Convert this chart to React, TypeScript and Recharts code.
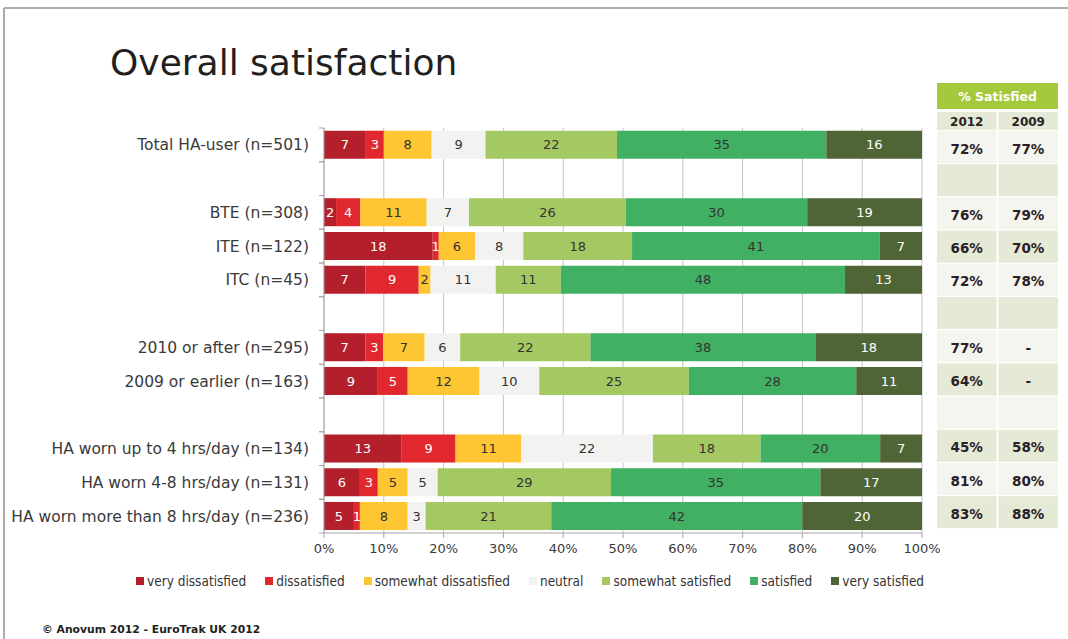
import React from "react";
import { BarChart, Bar, XAxis, YAxis, CartesianGrid, LabelList } from "recharts";

// Respondent groups (empty strings are spacer rows between groups)
const categories = [
  "Total HA-user (n=501)",
  "",
  "BTE (n=308)",
  "ITE (n=122)",
  "ITC (n=45)",
  "",
  "2010 or after (n=295)",
  "2009 or earlier (n=163)",
  "",
  "HA worn up to 4 hrs/day (n=134)",
  "HA worn 4-8 hrs/day (n=131)",
  "HA worn more than 8 hrs/day (n=236)",
];

// Share of answers per group, in percent
const veryDissatisfied = [7, null, 2, 18, 7, null, 7, 9, null, 13, 6, 5];
const dissatisfied = [3, null, 4, 1, 9, null, 3, 5, null, 9, 3, 1];
const somewhatDissatisfied = [8, null, 11, 6, 2, null, 7, 12, null, 11, 5, 8];
const neutral = [9, null, 7, 8, 11, null, 6, 10, null, 22, 5, 3];
const somewhatSatisfied = [22, null, 26, 18, 11, null, 22, 25, null, 18, 29, 21];
const satisfied = [35, null, 30, 41, 48, null, 38, 28, null, 20, 35, 42];
const verySatisfied = [16, null, 19, 7, 13, null, 18, 11, null, 7, 17, 20];

// "% Satisfied" summary per group
const satisfied2012 = ["72%", "", "76%", "66%", "72%", "", "77%", "64%", "", "45%", "81%", "83%"];
const satisfied2009 = ["77%", "", "79%", "70%", "78%", "", "-", "-", "", "58%", "80%", "88%"];
const tableYears = ["2012", "2009"];

const xTicks = [0, 0.1, 0.2, 0.3, 0.4, 0.5, 0.6, 0.7, 0.8, 0.9, 1];

const series = [
  { key: "veryDissatisfied", name: "very dissatisfied", values: veryDissatisfied, color: "#b31f2b", text: "#ffffff" },
  { key: "dissatisfied", name: "dissatisfied", values: dissatisfied, color: "#e2282f", text: "#ffffff" },
  { key: "somewhatDissatisfied", name: "somewhat dissatisfied", values: somewhatDissatisfied, color: "#fdc632", text: "#333333" },
  { key: "neutral", name: "neutral", values: neutral, color: "#f2f2f1", text: "#333333" },
  { key: "somewhatSatisfied", name: "somewhat satisfied", values: somewhatSatisfied, color: "#a5c962", text: "#333333" },
  { key: "satisfied", name: "satisfied", values: satisfied, color: "#41b063", text: "#333333" },
  { key: "verySatisfied", name: "very satisfied", values: verySatisfied, color: "#4f6535", text: "#ffffff" },
];

const data = categories.map((name, i) => {
  const row: Record<string, any> = { name };
  series.forEach((s) => {
    row[s.key] = s.values[i];
  });
  return row;
});

// layout
const CHART_W = 940;
const CHART_H = 600;
const PLOT_TOP = 128;
const PLOT_BOTTOM = 533;
const Y_AXIS_W = 324;
const Y_TICK_MARGIN = 15;
const BAND = (PLOT_BOTTOM - PLOT_TOP) / categories.length;
const AXIS_GREY = "#a6a6a6";
const FONT = "'DejaVu Sans', Verdana, sans-serif";

const fmtLabel = (v: any) => (v === null || v === undefined || v === 0 ? "" : v);

function CategoryTick(props: any) {
  const { x, y, payload } = props;
  const axisX = x + Y_TICK_MARGIN;
  return (
    <g>
      <line x1={axisX - 5} x2={axisX} y1={y - BAND / 2} y2={y - BAND / 2} stroke={AXIS_GREY} />
      <line x1={axisX - 5} x2={axisX} y1={y + BAND / 2} y2={y + BAND / 2} stroke={AXIS_GREY} />
      <text x={x} y={y} dy={5.5} textAnchor="end" fontSize={15.5} fill="#3a3a3a" fontFamily={FONT}>
        {payload.value}
      </text>
    </g>
  );
}

// summary table geometry
const TABLE_X = 937;
const COL_W = 59.5;
const COL_GAP = 2;
const ROW_TOP = 131;
const ROW_H = 33.2;
const CELL_H = 32;
const ROW_LIGHT = "#f4f5ee";
const ROW_DARK = "#e4ead6";

function SummaryTable() {
  const cols = [satisfied2012, satisfied2009];
  const tableW = COL_W * 2 + COL_GAP;
  return (
    <g fontFamily={FONT} fontWeight="bold">
      <rect x={TABLE_X} y={83} width={tableW} height={26} fill="#a5c93c" />
      <text x={TABLE_X + tableW / 2} y={101} textAnchor="middle" fill="#ffffff" fontSize={12.5}>
        % Satisfied
      </text>
      {tableYears.map((yr, c) => (
        <g key={yr}>
          <rect x={TABLE_X + c * (COL_W + COL_GAP)} y={112} width={COL_W} height={18} fill={ROW_DARK} />
          <text
            x={TABLE_X + c * (COL_W + COL_GAP) + COL_W / 2}
            y={126}
            textAnchor="middle"
            fill="#2a2026"
            fontSize={12}
          >
            {yr}
          </text>
        </g>
      ))}
      {categories.map((_, r) => (
        <g key={r}>
          {cols.map((col, c) => (
            <g key={c}>
              <rect
                x={TABLE_X + c * (COL_W + COL_GAP)}
                y={ROW_TOP + r * ROW_H}
                width={COL_W}
                height={CELL_H}
                fill={r % 2 === 0 ? ROW_LIGHT : ROW_DARK}
              />
              <text
                x={TABLE_X + c * (COL_W + COL_GAP) + COL_W / 2}
                y={ROW_TOP + r * ROW_H + 22.5}
                textAnchor="middle"
                fill="#2a2026"
                fontSize={13.5}
              >
                {col[r]}
              </text>
            </g>
          ))}
        </g>
      ))}
    </g>
  );
}

export default function App() {
  return (
    <div
      style={{
        position: "absolute",
        left: 0,
        top: 0,
        width: 1068,
        height: 639,
        overflow: "hidden",
        background: "#ffffff",
        fontFamily: FONT,
      }}
    >
      <div style={{ position: "absolute", left: 0, top: 0 }}>
        <BarChart
          width={CHART_W}
          height={CHART_H}
          data={data}
          layout="vertical"
          stackOffset="expand"
          barCategoryGap="8%"
          margin={{ top: PLOT_TOP, right: CHART_W - 922, bottom: CHART_H - PLOT_BOTTOM - 30, left: 0 }}
        >
          <CartesianGrid horizontal={false} stroke="#c4c4c4" />
          <XAxis
            type="number"
            domain={[0, 1]}
            ticks={xTicks}
            tickFormatter={(v: number) => `${Math.round(v * 100)}%`}
            stroke={AXIS_GREY}
            tickSize={5}
            tickMargin={6}
            tick={{ fontSize: 13, fill: "#3a3a3a" }}
            height={30}
          />
          <YAxis
            type="category"
            dataKey="name"
            width={Y_AXIS_W}
            stroke={AXIS_GREY}
            tickLine={false}
            tickSize={0}
            tickMargin={Y_TICK_MARGIN}
            tick={<CategoryTick />}
            interval={0}
          />
          {series.map((s) => (
            <Bar key={s.key} dataKey={s.key} name={s.name} stackId="a" fill={s.color} isAnimationActive={false}>
              <LabelList
                dataKey={s.key}
                position="center"
                fill={s.text}
                fontSize={13}
                formatter={fmtLabel}
              />
            </Bar>
          ))}
        </BarChart>
      </div>

      {/* legend */}
      <div
        style={{
          position: "absolute",
          left: 136,
          top: 573,
          display: "flex",
          gap: 19,
          fontFamily: "'Liberation Sans Narrow', 'DejaVu Sans Condensed', sans-serif",
          fontSize: 13.5,
          lineHeight: "16px",
          color: "#333333",
          whiteSpace: "nowrap",
        }}
      >
        {series.map((s) => (
          <div key={s.key} style={{ display: "flex", alignItems: "center" }}>
            <span
              style={{
                display: "inline-block",
                width: 8,
                height: 8,
                background: s.color,
                marginRight: 3,
              }}
            />
            <span>{s.name}</span>
          </div>
        ))}
      </div>

      <svg
        width={1068}
        height={639}
        style={{ position: "absolute", left: 0, top: 0, pointerEvents: "none" }}
      >
        <line x1={4} y1={8} x2={1068} y2={8} stroke="#ababab" strokeWidth={2} />
        <line x1={4} y1={8} x2={4} y2={639} stroke="#ababab" strokeWidth={2} />
        <text x={110} y={75} fontSize={36} fill="#231f20" fontFamily={FONT}>
          Overall satisfaction
        </text>
        <SummaryTable />
        <text x={42} y={633} fontSize={10.8} fontWeight="bold" fill="#231f20" fontFamily={FONT}>
          © Anovum 2012 - EuroTrak UK 2012
        </text>
      </svg>
    </div>
  );
}
